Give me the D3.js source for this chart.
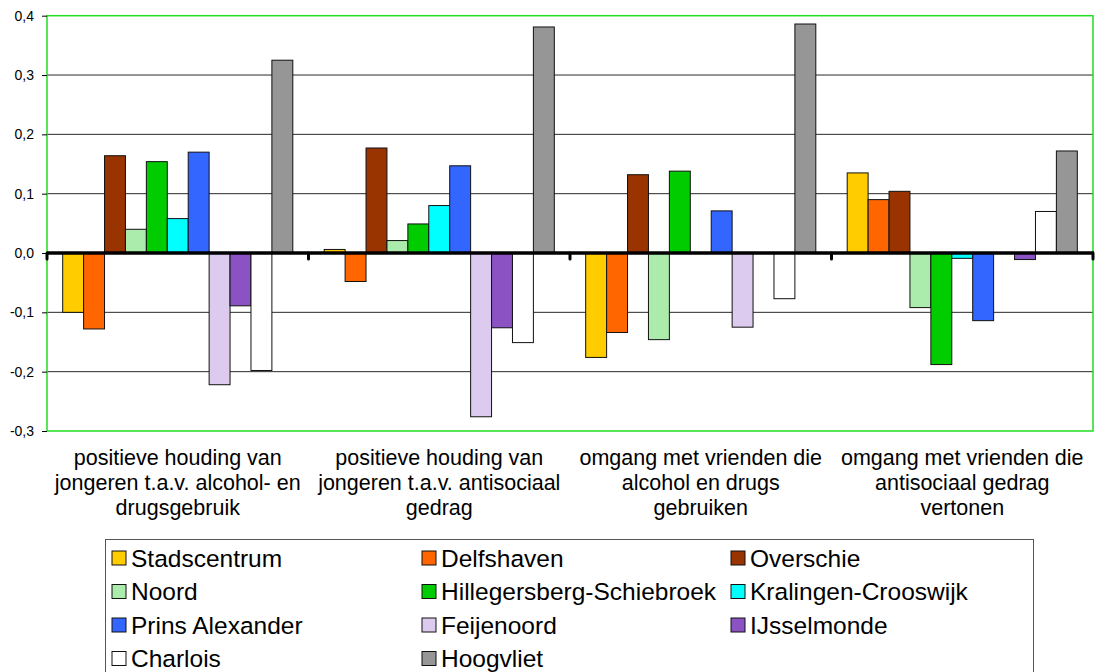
<!DOCTYPE html>
<html>
<head>
<meta charset="utf-8">
<script src="https://cdn.jsdelivr.net/npm/d3@7"></script>
<style>
  body { margin: 0; background: #fff; }
  svg { display: block; font-family: "Liberation Sans", Arial, sans-serif; }
</style>
</head>
<body>
<svg id="mychart"></svg>
<script>
const width = 1097
const height = 672
const margin = ({top: 15.7, right: 4, bottom: 241, left: 47})

const categories = [
  "positieve houding van jongeren t.a.v. alcohol- en drugsgebruik",
  "positieve houding van jongeren t.a.v. antisociaal gedrag",
  "omgang met vrienden die alcohol en drugs gebruiken",
  "omgang met vrienden die antisociaal gedrag vertonen"
]
const categoryLines = [
  ["positieve houding van", "jongeren t.a.v. alcohol- en", "drugsgebruik"],
  ["positieve houding van", "jongeren t.a.v. antisociaal", "gedrag"],
  ["omgang met vrienden die", "alcohol en drugs", "gebruiken"],
  ["omgang met vrienden die", "antisociaal gedrag", "vertonen"]
]

const districts = ["Stadscentrum", "Delfshaven", "Overschie", "Noord", "Hillegersberg-Schiebroek",
  "Kralingen-Crooswijk", "Prins Alexander", "Feijenoord", "IJsselmonde", "Charlois", "Hoogvliet"]
const colors = ["#ffcc00", "#ff6600", "#993300", "#abebab", "#00cc00",
  "#00ffff", "#3366ff", "#dccbee", "#8b52c4", "#ffffff", "#969696"]

// one value per district, per category
const stadscentrum = [-0.100, 0.006, -0.176, 0.135]
const delfshaven   = [-0.128, -0.048, -0.134, 0.090]
const overschie    = [0.164, 0.177, 0.132, 0.104]
const noord        = [0.040, 0.021, -0.146, -0.092]
const hillegersberg = [0.154, 0.049, 0.138, -0.188]
const kralingen    = [0.058, 0.080, 0, -0.009]
const prinsAlex    = [0.170, 0.147, 0.071, -0.114]
const feijenoord   = [-0.222, -0.276, -0.125, 0]
const ijsselmonde  = [-0.089, -0.126, 0, -0.011]
const charlois     = [-0.198, -0.151, -0.077, 0.070]
const hoogvliet    = [0.325, 0.381, 0.386, 0.172]

const yTicks = [-0.3, -0.2, -0.1, 0, 0.1, 0.2, 0.3, 0.4]

const series = [stadscentrum, delfshaven, overschie, noord, hillegersberg, kralingen,
  prinsAlex, feijenoord, ijsselmonde, charlois, hoogvliet]

const data = []
categories.forEach((c, ci) => {
  districts.forEach((d, di) => data.push({cat: ci, dist: di, value: series[di][ci]}))
})

const y = d3.scaleLinear()
  .domain([-0.3, 0.4])
  .range([height - margin.bottom, margin.top])

const x0 = d3.scaleBand()
  .domain(d3.range(categories.length))
  .range([margin.left, width - margin.right])
  .padding(0)

const x1 = d3.scaleBand()
  .domain(d3.range(districts.length))
  .range([0, x0.bandwidth()])
  .paddingInner(0)
  .paddingOuter(0.75)

const fmt = v => d3.format(".1f")(v).replace(".", ",").replace("−", "-")

function chart () {
  const svg = d3.select('#mychart')
    .attr('width', width).attr('height', height)
    .attr('viewBox', [0, 0, width, height])

  // gridlines
  svg.append("g")
    .selectAll("line")
    .data(yTicks.filter(t => t !== 0 && t !== 0.4 && t !== -0.3))
    .join("line")
    .attr("x1", margin.left).attr("x2", width - margin.right)
    .attr("y1", d => y(d)).attr("y2", d => y(d))
    .attr("stroke", "#2a2a2a").attr("stroke-width", 1)

  // plot frame
  svg.append("rect")
    .attr("x", margin.left).attr("y", margin.top)
    .attr("width", width - margin.right - margin.left)
    .attr("height", y(-0.3) - margin.top)
    .attr("fill", "none").attr("stroke", "#22dd22").attr("stroke-width", 1.5)

  // y axis
  const yAxis = g => g
    .attr("transform", `translate(${margin.left},0)`)
    .call(d3.axisLeft(y).tickValues(yTicks).tickFormat(fmt).tickSize(5).tickPadding(8))
    .call(g => g.select(".domain").remove())
    .call(g => g.selectAll(".tick line").attr("stroke", "#000"))
    .call(g => g.selectAll(".tick text").attr("font-size", 14).attr("fill", "#000")
      .attr("font-family", "'Liberation Sans', Arial, sans-serif"))
  svg.append("g").call(yAxis)

  // bars
  svg.append("g")
    .selectAll("rect")
    .data(data)
    .join("rect")
    .attr("x", d => x0(d.cat) + x1(d.dist))
    .attr("y", d => y(Math.max(0, d.value)))
    .attr("width", x1.bandwidth())
    .attr("height", d => Math.abs(y(d.value) - y(0)))
    .attr("fill", d => colors[d.dist])
    .attr("stroke", "#111")
    .attr("stroke-width", 1)

  // zero axis with group ticks
  const xAxis = g => g
    .attr("transform", `translate(0,${y(0)})`)
    .call(g => g.append("line")
      .attr("x1", margin.left).attr("x2", width - margin.right + 1)
      .attr("stroke", "#000").attr("stroke-width", 3.5))
    .call(g => g.selectAll(".gt")
      .data(d3.range(categories.length + 1))
      .join("line")
      .attr("class", "gt")
      .attr("x1", i => i < categories.length ? x0(i) : width - margin.right)
      .attr("x2", i => i < categories.length ? x0(i) : width - margin.right)
      .attr("y1", 0).attr("y2", 6)
      .attr("stroke", "#000").attr("stroke-width", 3).attr("stroke-linecap", "round"))
  svg.append("g").call(xAxis)

  // category labels
  const labels = svg.append("g")
    .attr("font-size", 21.5)
    .attr("fill", "#000")
    .attr("text-anchor", "middle")
    .selectAll("text")
    .data(categoryLines)
    .join("text")
    .attr("transform", (d, i) => `translate(${x0(i) + x0.bandwidth() / 2},${y(-0.3) + 34})`)
  labels.selectAll("tspan")
    .data(d => d)
    .join("tspan")
    .attr("x", 0)
    .attr("y", (d, i) => i * 25)
    .text(d => d)

  // legend
  const lg = svg.append("g")
  lg.append("rect")
    .attr("x", 105.5).attr("y", 539.5)
    .attr("width", 928).attr("height", 150)
    .attr("fill", "#fff").attr("stroke", "#555").attr("stroke-width", 1)

  const colX = [112, 422, 731]
  const item = lg.selectAll("g.item")
    .data(districts)
    .join("g")
    .attr("class", "item")
    .attr("transform", (d, i) => `translate(${colX[i % 3]},${551 + Math.floor(i / 3) * 33.5})`)
  item.append("rect")
    .attr("width", 14).attr("height", 14)
    .attr("fill", (d, i) => colors[i])
    .attr("stroke", "#111").attr("stroke-width", 1)
  item.append("text")
    .attr("x", 19).attr("y", 15.5)
    .attr("font-size", 24.5)
    .attr("fill", "#000")
    .text(d => d)

  return svg.node()
}

chart()
</script>
</body>
</html>
